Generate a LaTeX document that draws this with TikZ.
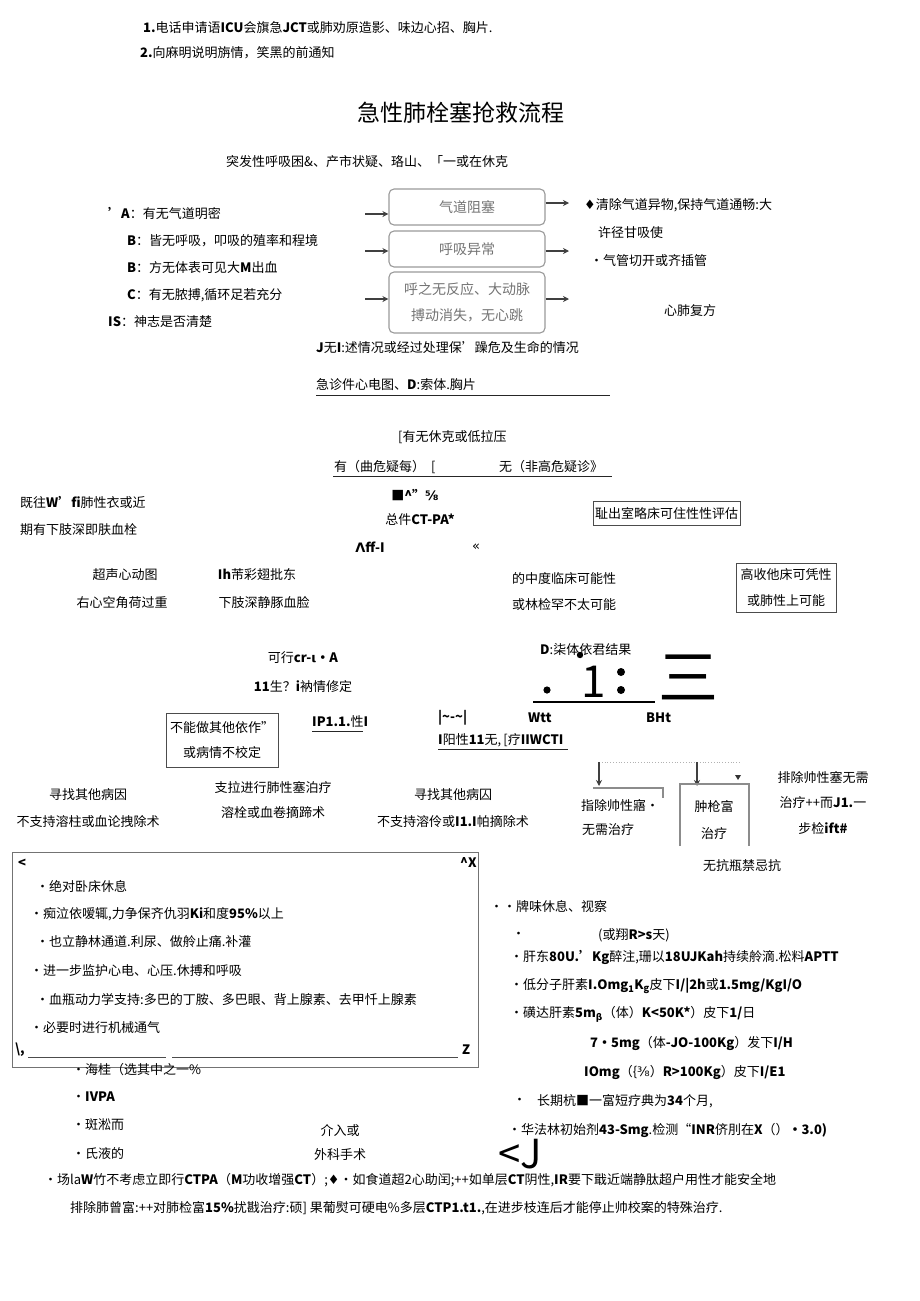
\documentclass[tikz,border=0pt]{standalone}
\usepackage{fontspec}
\setmainfont{Noto Sans CJK SC}
\newfontfamily\dv{DejaVu Sans}
\usetikzlibrary{arrows.meta}
\newcommand{\fsz}{\fontsize{13}{15}\selectfont}
\newcommand{\B}[1]{\textbf{#1}}
\tikzset{
  tx/.style={inner sep=0pt, anchor=west, font=\fsz, text=black},
  tc/.style={inner sep=0pt, anchor=center, font=\fsz, text=black},
  gbox/.style={draw=black!40, line width=1.1pt, rounded corners=5pt, inner sep=0pt, font=\fontsize{14}{26}\selectfont, text=black!55, align=center},
  sbox/.style={draw=black!70, line width=0.9pt, inner sep=0pt, font=\fsz, align=center},
  arr/.style={-{Stealth[length=6pt,width=6pt]}, line width=1.6pt, draw=black!75},
  uline/.style={line width=0.9pt, draw=black!85},
}
\begin{document}
\begin{tikzpicture}[x=1pt,y=-1pt]
\useasboundingbox (0,0) rectangle (920,1301);
% header
\node[tx] (t1) at (143,28) {\B{1.}电话申请语\B{ICU}会旗急\B{JCT}或肺劝原造影、味边心招、胸片.};
\node[tx] (t2) at (140,53) {\B{2.}向麻明说明旃情，笑黑的前通知};
\node[tc, font=\fontsize{23}{26}\selectfont] (title) at (461,113) {急性肺栓塞抢救流程};
\node[tx] (t3) at (226,162) {突发性呼吸困\&、产市状疑、珞山、「一或在休克};
% left ABC list
\node[tx] (l1) at (108,213) {\B{'A}：有无气道明密};
\node[tx] (l2) at (127,241) {\B{B}：皆无呼吸，叩吸的殖率和程境};
\node[tx] (l3) at (127,268) {\B{B}：方无体表可见大\B{M}出血};
\node[tx] (l4) at (127,295) {\B{C}：有无脓搏,循环足若充分};
\node[tx] (l5) at (108,322) {\B{IS}：神志是否清楚};
% grey boxes
\node[gbox, minimum width=156pt, minimum height=36pt] (b1) at (467,207) {气道阻塞};
\node[gbox, minimum width=156pt, minimum height=36pt] (b2) at (467,249) {呼吸异常};
\node[gbox, minimum width=156pt, minimum height=61pt] (b3) at (467,302.5) {呼之无反应、大动脉\\搏动消失，无心跳};
\coordinate (i1) at (365,214);
\coordinate (i2) at (365,251);
\coordinate (i3) at (365,299);
\coordinate (o1) at (569,203);
\coordinate (o2) at (569,251);
\coordinate (o3) at (569,299);
\draw[arr] (i1) -- (i1 -| b1.west);
\draw[arr] (i2) -- (i2 -| b2.west);
\draw[arr] (i3) -- (i3 -| b3.west);
\draw[arr] (o1 -| b1.east) -- (o1);
\draw[arr] (o2 -| b2.east) -- (o2);
\draw[arr] (o3 -| b3.east) -- (o3);
% right texts
\node[tx] (r1) at (584,205) {{\dv ♦}清除气道异物,保持气道通畅:大};
\node[tx] (r2) at (598,233) {许径甘吸使};
\node[tx] (r3) at (590,261) {·气管切开或齐插管};
\node[tx] (r4) at (664,311) {心肺复方};
% middle
\node[tx] (m1) at (316,348) {\B{J}无\B{I}:述情况或经过处理保'躁危及生命的情况};
\node[tx] (m2) at (316,385) {急诊件心电图、\B{D}:索体.胸片};
\coordinate (u1a) at (316,395); \coordinate (u1b) at (610,395);
\draw[uline] (u1a) -- (u1b);
\node[tx] (m3) at (398,437) {[有无休克或低拉压};
\node[tx] (m4) at (334,467) {有（曲危疑每）\ \ [};
\node[tx] (m5) at (499,467) {无（非高危疑诊》};
\coordinate (u2a) at (333,476); \coordinate (u2b) at (612,476);
\draw[uline] (u2a) -- (u2b);
\node[tx] (p1) at (20,502) {既往\B{W'fi}肺性衣或近};
\node[tx] (p2) at (20,530) {期有下肢深即肤血栓};
\node[tc, font=\fsz\bfseries] (c1) at (415,495) {■\textasciicircum"{\dv ⅝}};
\node[tc] (c2) at (420,520) {总件\B{CT-PA*}};
\node[tc, font=\fsz\bfseries] (c3) at (370,547) {{\dv\bfseries Λ}ff-I};
\node[tc] (c4) at (476,547) {{\dv «}};
\node[sbox, minimum width=147pt, minimum height=24pt] (e1) at (666.5,513) {耻出室略床可住性性评估};
\node[tc] (s1) at (125,575) {超声心动图};
\node[tc] (s2) at (122,603) {右心空角荷过重};
\node[tc] (s3) at (257,575) {\B{Ih}芾彩翅批东};
\node[tc] (s4) at (264,603) {下肢深静豚血脸};
\node[tx] (s5) at (512,579) {的中度临床可能性};
\node[tx] (s6) at (512,605) {或林检罕不太可能};
\node[sbox, minimum width=100pt, minimum height=49pt, font=\fontsize{13}{26}\selectfont] (e2) at (786,587.5) {高收他床可凭性\\或肺性上可能};
\node[tc] (k1) at (303,658) {可行\B{cr-{\dv ι}·A}};
\node[tc] (k2) at (303,687) {\B{11}生？\B{i}衲情修定};
\node[sbox, minimum width=112pt, minimum height=54pt, font=\fontsize{13}{25}\selectfont] (e3) at (222,740) {不能做其他依作”\\或病情不校定};
\node[tx] (k3) at (312,722) {\B{IP1.1.}性\B{I}};
\coordinate (u3a) at (312,731); \coordinate (u3b) at (363,731);
\draw[uline] (u3a) -- (u3b);
% D result area
\node[tx] (g1) at (540,650) {\B{D}:柒体依君结果};
\node[inner sep=0pt, font=\fontsize{44}{44}\rmfamily\selectfont] (g2) at (594,682) {1};
\fill[black] (547,690) circle (3.6pt);
\fill[black] (580,655) circle (3.2pt);
\fill[black] (621,672) circle (4pt);
\fill[black] (621,690) circle (4pt);
\coordinate (u4a) at (533,702); \coordinate (u4b) at (655,702);
\draw[line width=1.8pt] (u4a) -- (u4b);
\node[inner sep=0pt, font=\fontsize{60}{60}\selectfont] (g3) at (688,677) {三};
\node[tx, font=\fsz\bfseries] (g4) at (438,718) {|\textasciitilde-\textasciitilde|};
\node[tx, font=\fsz\bfseries] (g5) at (528,718) {Wtt};
\node[tx, font=\fsz\bfseries] (g6) at (646,718) {BHt};
\node[tx] (g7) at (438,740) {\B{I}阳性\B{11}无,\,[疗\B{IIWCTI}};
\coordinate (u5a) at (438,749); \coordinate (u5b) at (568,749);
\draw[uline] (u5a) -- (u5b);
% lower arrows
\coordinate (d1) at (599,762); \coordinate (d1e) at (599,786);
\coordinate (d2) at (697,762); \coordinate (d2e) at (697,786);
\draw[black!30, dotted, line width=0.8pt] (d1) -- (740,762);
\draw[arr, line width=1.3pt] (d1) -- (d1e);
\draw[arr, line width=1.3pt] (d2) -- (d2e);
\fill[black!80] (735,775) -- (741,775) -- (738,780) -- cycle;
\draw[black!45, line width=1.6pt] (593,788) -- (663,788) -- (663,798);
\draw[black!45, line width=1.3pt] (680,846) -- (680,784) -- (749,784) -- (749,846);
\node[tc] (h1) at (620,806) {指除帅性寤·};
\node[tc] (h2) at (608,830) {无需治疗};
\node[tc] (h3) at (714,806) {肿枪富};
\node[tc] (h4) at (714,834) {治疗};
\node[tc] (h5) at (823,778) {排除帅性塞无需};
\node[tc] (h6) at (823,803) {治疗++而\B{J1.}一};
\node[tc] (h7) at (823,828) {步检\B{ift\#}};
\node[tc] (f1) at (88,795) {寻找其他病因};
\node[tc] (f2) at (88,822) {不支持溶柱或血论拽除术};
\node[tc] (f3) at (273,788) {支拉进行肺性塞泊疗};
\node[tc] (f4) at (273,813) {溶栓或血卷摘蹄术};
\node[tc] (f5) at (453,795) {寻找其他病囚};
\node[tc] (f6) at (453,822) {不支持溶伶或\B{I1.I}帕摘除术};
\node[tc] (f7) at (742,866) {无抗瓶禁忌抗};
% big bottom-left box
\node[draw=black!55, line width=0.9pt, inner sep=0pt, minimum width=466pt, minimum height=215pt] (bb) at (245,959.5) {};
\node[tx, font=\fsz\bfseries] (q0) at (18,863) {<};
\node[tx, font=\fsz\bfseries] (q0b) at (460,863) {\textasciicircum X};
\node[tx] (q1) at (36,886) {·绝对卧床休息};
\node[tx] (q2) at (30,914) {•痴泣依嗳辄,力争保齐仇羽\B{Ki}和度\B{95\%}以上};
\node[tx] (q3) at (36,942) {·也立静林通道.利尿、做舲止痛.补灌};
\node[tx] (q4) at (30,971) {•进一步监护心电、心压.休搏和呼吸};
\node[tx] (q5) at (36,1000) {·血瓶动力学支持:多巴的丁胺、多巴眼、背上腺素、去甲忏上腺素};
\node[tx] (q6) at (30,1028) {•必要时进行机械通气};
\node[tx, font=\fsz\bfseries] (q7) at (15,1050) {\textbackslash,};
\node[tx, font=\fsz\bfseries] (q8) at (462,1050) {Z};
\coordinate (u6a) at (28,1057); \coordinate (u6b) at (166,1057);
\coordinate (u7a) at (172,1057); \coordinate (u7b) at (458,1057);
\draw[black!70, line width=0.7pt] (u6a) -- (u6b);
\draw[black!70, line width=0.7pt] (u7a) -- (u7b);
\node[tx] (v1) at (72,1070) {•海桂（选其中之一\%};
\node[tx] (v2) at (72,1097) {•\B{IVPA}};
\node[tx] (v3) at (72,1125) {•斑淞而};
\node[tx] (v4) at (72,1154) {·氏液的};
\node[tc] (v5) at (340,1131) {介入或};
\node[tc] (v6) at (340,1155) {外科手术};
% right list
\node[tx] (w1) at (490,906) {•·牌味休息、视察};
\node[tx] (w2a) at (512,935) {•};
\node[tx] (w2) at (598,935) {(或翔\B{R>s}天)};
\node[tx] (w3) at (510,957) {•肝东\B{80U.'Kg}醉注,珊以\B{18UJKah}持续舲滴.松料\B{APTT}};
\node[tx] (w4) at (510,986) {•低分子肝素\B{I.Omg\textsubscript{1}K\textsubscript{g}}皮下\B{I/|2h}或\B{1.5mg/KgI/O}};
\node[tx] (w5) at (510,1014) {•磺达肝素\B{5m\textsubscript{\dv β}}（体）\B{K<50K*}）皮下\B{1/}日};
\node[tx] (w6) at (590,1043) {\B{7•5mg}（体\B{-JO-100Kg}）发下\B{I/H}};
\node[tx] (w7) at (584,1072) {\B{IOmg}（\{{\dv ⅜}）\B{R>100Kg}）皮下\B{I/E1}};
\node[tx] (w8a) at (513,1101) {•};
\node[tx] (w8) at (537,1101) {长期杭■一富短疗典为\B{34}个月,};
\node[tx] (w9) at (508,1130) {•华法林初始剂\B{43-Smg}.检测“\B{INR}侪刖在\B{X}（）\B{•3.0)}};
\node[inner sep=0pt, font=\fontsize{40}{40}\selectfont] (w10) at (520,1154) {<J};
% bottom notes
\node[tx] (n1) at (44,1180) {•场{\itshape la}\B{W}竹不考虑立即行\B{CTPA}（\B{M}功收增强\B{CT}）;{\dv ♦}•如食道超2心助闰;++如单层\B{CT}阴性,\B{IR}要下戢近端静肽超户用性才能安全地};
\node[tx] (n2) at (70,1208) {排除肺曾富:++对肺检富\B{15\%}扰戡治疗:硕] 果葡熨可硬电\%多层\B{CTP1.t1.},在进步枝连后才能停止帅校案的特殊治疗.};
\end{tikzpicture}
\end{document}
